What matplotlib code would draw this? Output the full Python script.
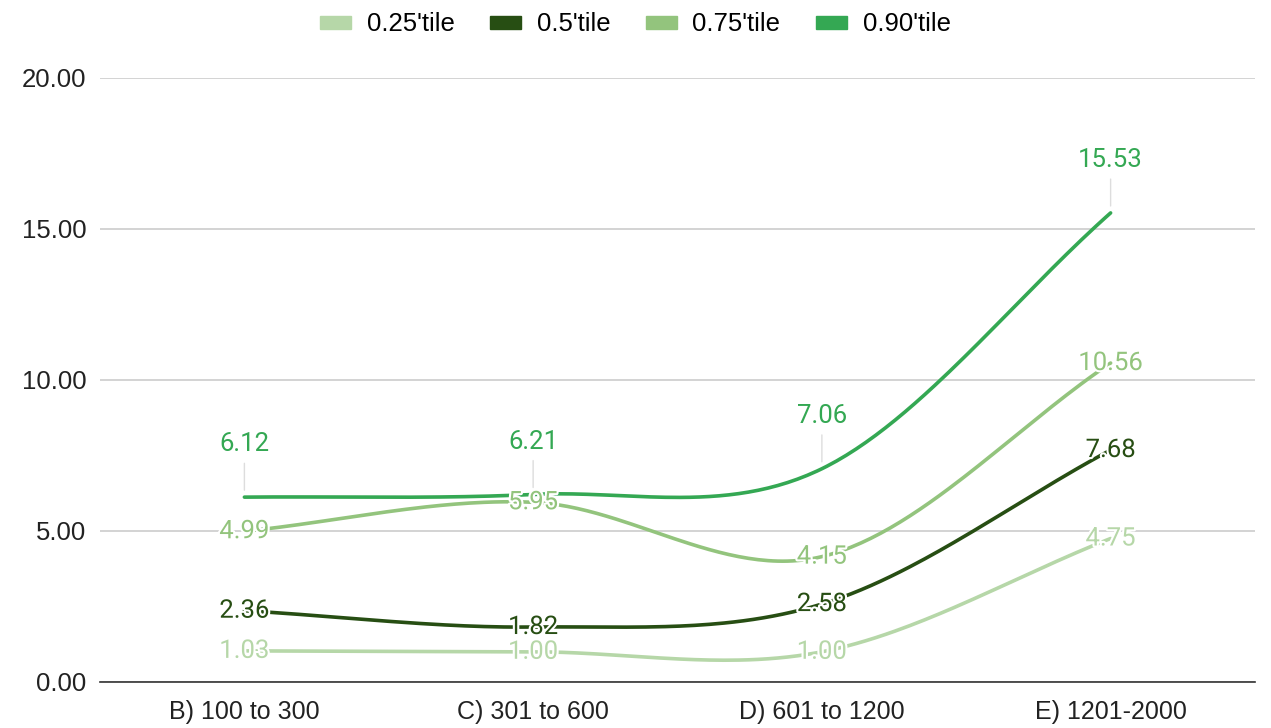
import numpy as np
import matplotlib.pyplot as plt
import matplotlib.patheffects as pe
from matplotlib.patches import Patch

categories = ["B) 100 to 300", "C) 301 to 600", "D) 601 to 1200", "E) 1201-2000"]
p25 = [1.03, 1.00, 1.00, 4.75]
p50 = [2.36, 1.82, 2.58, 7.68]
p75 = [4.99, 5.95, 4.15, 10.56]
p90 = [6.12, 6.21, 7.06, 15.53]

names = ["0.25'tile", "0.5'tile", "0.75'tile", "0.90'tile"]
colors = ["#b6d7a8", "#274e13", "#93c47d", "#34a853"]
series = [p25, p50, p75, p90]


def smooth(y, n=60):
    # hermite curve through the points, tangents from np.gradient
    y = np.asarray(y, float)
    x = np.arange(len(y))
    m = np.gradient(y)
    xs, ys = [], []
    for i in range(len(y) - 1):
        t = np.linspace(0, 1, n)
        h00 = 2 * t**3 - 3 * t**2 + 1
        h10 = t**3 - 2 * t**2 + t
        h01 = -2 * t**3 + 3 * t**2
        h11 = t**3 - t**2
        xs.append(x[i] + t)
        ys.append(h00 * y[i] + h10 * m[i] + h01 * y[i + 1] + h11 * m[i + 1])
    return np.concatenate(xs), np.concatenate(ys)


fig = plt.figure(figsize=(12.71, 7.28), dpi=100)
ax = fig.add_axes([0.0787, 0.0632, 0.9087, 0.8298])

x = np.arange(len(categories))
halo = [pe.withStroke(linewidth=3, foreground="white")]
for vals, c, name in zip(series, colors, names):
    xs, ys = smooth(vals)
    ax.plot(xs, ys, color=c, lw=2.6, solid_capstyle="round", zorder=3)
    for xi, v in zip(x, vals):
        if name == "0.90'tile":
            ax.annotate(f"{v:.2f}", (xi, v), xytext=(0, 38), textcoords="offset points",
                        ha="center", va="center", color=c, fontsize=18.5, family="Roboto",
                        zorder=5,
                        arrowprops=dict(arrowstyle="-", color="#dddddd", lw=1,
                                        shrinkA=3, shrinkB=5))
        else:
            ax.text(xi, v, f"{v:.2f}", ha="center", va="center", color=c, fontsize=18.5,
                    family="Roboto", zorder=4, path_effects=halo)

ax.set_xlim(-0.5, 3.5)
ax.set_ylim(0, 20)
ax.set_yticks([0, 5, 10, 15, 20])
ax.set_yticklabels([f"{t:.2f}" for t in [0, 5, 10, 15, 20]], family="Liberation Sans", fontsize=18.5)
ax.set_xticks(x)
ax.set_xticklabels(categories, family="Liberation Sans", fontsize=18)
ax.grid(axis="y", color="#cccccc", lw=1.2)
ax.set_axisbelow(True)
for s in ["top", "right", "left"]:
    ax.spines[s].set_visible(False)
ax.spines["bottom"].set_color("#333333")
ax.spines["bottom"].set_linewidth(1.2)
ax.tick_params(length=0, pad=13, colors="#222222")
ax.tick_params(axis="y", pad=10)

handles = [Patch(color=c) for c in colors]
fig.legend(handles, names, loc="upper center", bbox_to_anchor=(0.5, 1.015), ncol=4,
           frameon=False, prop={"family": "Liberation Sans", "size": 18.5},
           handlelength=1.2, handleheight=0.4, columnspacing=1.4, handletextpad=0.6)

fig.savefig("out.png", dpi=100)
